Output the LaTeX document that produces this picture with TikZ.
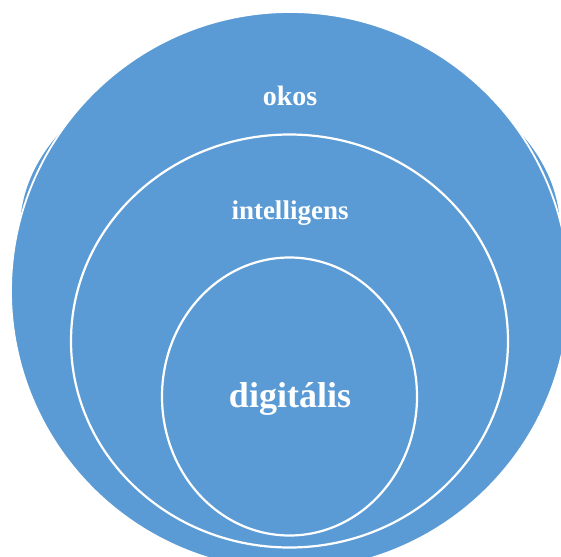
\documentclass[tikz,border=0pt]{standalone}
\usepackage{fontspec}
\setmainfont{Liberation Serif}
\definecolor{officeblue}{HTML}{5B9BD5}
\tikzset{
  ring/.style={draw=white, line width=2.2pt, fill=officeblue},
  lbl/.style={text=white, font=\bfseries, inner sep=0pt, anchor=center}
}
\begin{document}
\begin{tikzpicture}[x=1pt,y=1pt]
\useasboundingbox (0,0) rectangle (561,-556);
\clip (0,0) rectangle (561,-556);
% back shape
\fill[officeblue] (290,-229.5) ellipse [x radius=270, y radius=185];
% outer circle
\draw[ring, line width=1.8pt] (290,-291) circle [radius=279];
% middle ellipse
\draw[ring] (289.5,-341) ellipse [x radius=218.5, y radius=206.5];
% inner ellipse
\draw[ring] (289.5,-396.5) ellipse [x radius=127.5, y radius=139];
\node[lbl, font=\bfseries\fontsize{28}{30}\selectfont] (okos) at (290,-96) {okos};
\node[lbl, font=\bfseries\fontsize{27}{30}\selectfont] (intel) at (290,-213) {intelligens};
\node[lbl, font=\bfseries\fontsize{36}{40}\selectfont] (dig) at (290,-399) {digitális};
\end{tikzpicture}
\end{document}
